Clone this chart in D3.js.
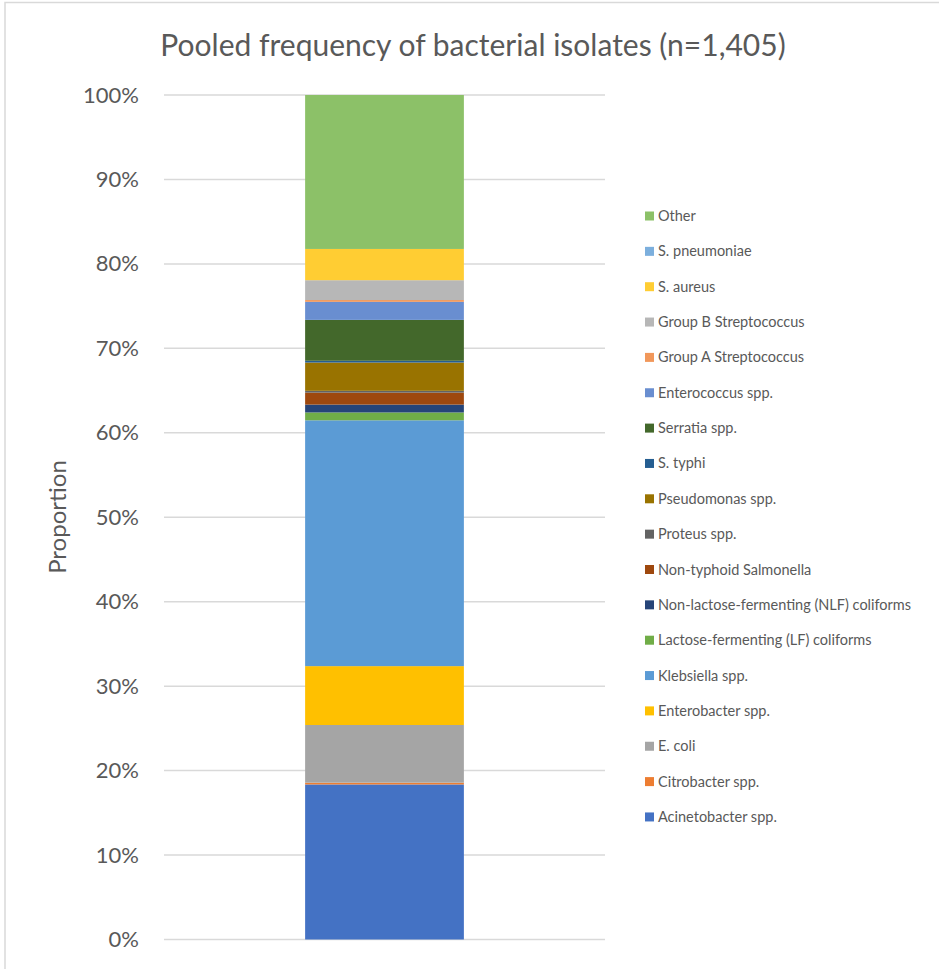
<!DOCTYPE html>
<html>
<head>
<meta charset="utf-8">
<script src="https://d3js.org/d3.v7.min.js"></script>
<style>
  body { margin: 0; background: #fff; }
  text { font-family: "Lato", "Open Sans", sans-serif; fill: #595959; }
</style>
</head>
<body>
<div id="chart"></div>
<script>
// series names, bottom to top of the stack
var organisms = ["Acinetobacter spp.", "Citrobacter spp.", "E. coli", "Enterobacter spp.",
  "Klebsiella spp.", "Lactose-fermenting (LF) coliforms", "Non-lactose-fermenting (NLF) coliforms",
  "Non-typhoid Salmonella", "Proteus spp.", "Pseudomonas spp.", "S. typhi", "Serratia spp.",
  "Enterococcus spp.", "Group A Streptococcus", "Group B Streptococcus", "S. aureus",
  "S. pneumoniae", "Other"];

// proportion (%) of isolates
var proportions = [18.36, 0.21, 6.83, 6.97, 29.11, 0.93, 0.93, 1.42, 0.21, 3.35, 0.21, 4.84,
  2.14, 0.21, 2.35, 3.70, 0.0, 18.23];

var colors = ["#4472C4", "#ED7D31", "#A5A5A5", "#FFC000", "#5B9BD5", "#70AD47", "#264478",
  "#9E480E", "#636363", "#997300", "#255E91", "#43682B", "#698ED0", "#F1975A", "#B7B7B7",
  "#FFCD33", "#7CAFDD", "#8CC168"];

var yTicks = [0, 10, 20, 30, 40, 50, 60, 70, 80, 90, 100];

var width = 939, height = 969;
var margin = {top: 95, left: 164, bottom: 29},
    plotW = 441,
    plotH = height - margin.top - margin.bottom - 0.5;

var svg = d3.select("#chart").append("svg")
    .attr("width", width)
    .attr("height", height);

// chart frame
svg.append("rect")
    .attr("x", 5).attr("y", 2.5)
    .attr("width", width + 10).attr("height", height + 10)
    .attr("fill", "none")
    .attr("stroke", "#d9d9d9")
    .attr("stroke-width", 1.5);

// title
svg.append("text")
    .attr("x", 473).attr("y", 56)
    .attr("text-anchor", "middle")
    .style("font-size", "30px")
    .text("Pooled frequency of bacterial isolates (n=1,405)");

var g = svg.append("g")
    .attr("transform", "translate(" + margin.left + "," + margin.top + ")");

var x = d3.scaleBand().domain(["all"]).range([0, plotW]).paddingInner(0.64).paddingOuter(0.32);
var y = d3.scaleLinear().domain([0, 100]).range([plotH, 0]);

// gridlines
g.selectAll(".grid")
  .data(yTicks)
  .enter().append("line")
    .attr("x1", 0).attr("x2", plotW)
    .attr("y1", function(d) { return y(d); })
    .attr("y2", function(d) { return y(d); })
    .attr("stroke", "#d9d9d9")
    .attr("stroke-width", 1.5);

// y axis labels
var yAxis = g.append("g")
    .call(d3.axisLeft(y).tickValues(yTicks).tickSize(0).tickPadding(25)
      .tickFormat(function(d) { return d + "%"; }));
yAxis.select(".domain").remove();
yAxis.selectAll("text")
    .style("font-size", "22px")
    .style("font-family", "Lato, sans-serif")
    .attr("fill", "#595959");

// axis title
svg.append("text")
    .attr("transform", "translate(66,517) rotate(-90)")
    .attr("text-anchor", "middle")
    .style("font-size", "24px")
    .text("Proportion");

// stacked bar
var row = {key: "all"};
organisms.forEach(function(k, i) { row[k] = proportions[i]; });
var stacked = d3.stack().keys(organisms)([row]);

g.selectAll(".seg")
  .data(stacked)
  .enter().append("rect")
    .attr("class", "seg")
    .attr("x", x("all"))
    .attr("width", x.bandwidth())
    .attr("y", function(d) { return y(d[0][1]); })
    .attr("height", function(d) { return y(d[0][0]) - y(d[0][1]); })
    .attr("fill", function(d, i) { return colors[i]; });

// legend, top entry is the last series
var legend = svg.append("g").attr("transform", "translate(645,216)");
var items = legend.selectAll(".item")
  .data(organisms.slice().reverse())
  .enter().append("g")
    .attr("transform", function(d, i) { return "translate(0," + (i * 35.35) + ")"; });

items.append("rect")
    .attr("x", 0).attr("y", -4.5)
    .attr("width", 9).attr("height", 9)
    .attr("fill", function(d) { return colors[organisms.indexOf(d)]; });

items.append("text")
    .attr("x", 13).attr("y", 5)
    .style("font-size", "14.5px")
    .text(function(d) { return d; });
</script>
</body>
</html>
